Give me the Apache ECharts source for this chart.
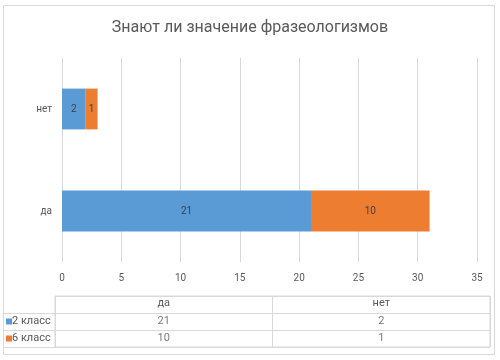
<!DOCTYPE html>
<html>
<head>
<meta charset="utf-8">
<script src="https://cdn.jsdelivr.net/npm/echarts@6/dist/echarts.min.js"></script>
<style>
html,body{margin:0;padding:0;background:#fff;}
#chart{width:500px;height:360px;}
</style>
</head>
<body>
<div id="chart"></div>
<script>
const titleText = 'Знают ли значение фразеологизмов';
const categories = ['да', 'нет'];
const seriesNames = ['2 класс', '6 класс'];
const class2 = [21, 2];
const class6 = [10, 1];
const seriesColors = ['#5B9BD5', '#ED7D31'];
const xTicks = { min: 0, max: 35, interval: 5 };

const FONT = 'Roboto';
const TXT = '#595959';
const GRID = '#d9d9d9';

const seriesValues = [class2, class6];
const tableRows = [''].concat(seriesNames);

const tableData = [];
seriesNames.forEach((s, si) => {
  categories.forEach((c, ci) => {
    tableData.push([c, s, seriesValues[si][ci]]);
  });
});

const rich = { t: { fontFamily: FONT, fontSize: 11, color: TXT } };
seriesColors.forEach((c, i) => {
  rich['m' + i] = { width: 6, height: 6, backgroundColor: c };
});

const chart = echarts.init(document.getElementById('chart'), null, { renderer: 'canvas' });
chart.setOption({
  animation: false,
  backgroundColor: '#fff',
  textStyle: { fontFamily: FONT },
  title: {
    text: titleText,
    left: 'center',
    top: 15,
    textStyle: { fontFamily: FONT, fontSize: 16, fontWeight: 'normal', color: TXT }
  },
  graphic: [{
    type: 'rect',
    shape: { x: 3.5, y: 5.5, width: 491, height: 349 },
    style: { fill: 'none', stroke: GRID, lineWidth: 1 },
    silent: true
  }],
  grid: [
    { left: 62, right: 23, top: 58, height: 204 },
    { left: 55, right: 10, top: 296, height: 51, show: true, borderColor: GRID, borderWidth: 1, backgroundColor: 'transparent' }
  ],
  xAxis: [
    {
      gridIndex: 0, type: 'value', min: xTicks.min, max: xTicks.max, interval: xTicks.interval,
      axisLine: { show: false }, axisTick: { show: false },
      splitLine: { show: true, lineStyle: { color: GRID } },
      axisLabel: { color: TXT, fontSize: 10, fontFamily: FONT, margin: 11 }
    },
    {
      gridIndex: 1, type: 'category', data: categories, position: 'top',
      axisLine: { show: false }, axisTick: { show: false },
      splitLine: { show: true, lineStyle: { color: GRID } },
      axisLabel: { inside: true, margin: 2, color: TXT, fontSize: 11, fontFamily: FONT }
    }
  ],
  yAxis: [
    {
      gridIndex: 0, type: 'category', data: categories,
      axisLine: { show: false }, axisTick: { show: false },
      axisLabel: { color: TXT, fontSize: 10, fontFamily: FONT, margin: 10 }
    },
    {
      gridIndex: 1, type: 'category', data: tableRows, inverse: true,
      axisLine: { show: false },
      axisTick: { show: true, length: 51, interval: (i) => i !== 0, lineStyle: { color: GRID } },
      splitLine: { show: true, lineStyle: { color: GRID } },
      axisLabel: {
        align: 'left', margin: 49,
        formatter: (v, i) => v ? '{m' + (i - 1) + '|}{t|' + v + '}' : '',
        rich: rich
      }
    }
  ],
  series: [
    {
      name: seriesNames[0], type: 'bar', stack: 'total', barWidth: '40%',
      xAxisIndex: 0, yAxisIndex: 0,
      itemStyle: { color: seriesColors[0] },
      label: { show: true, position: 'inside', color: '#404040', fontSize: 10, fontFamily: FONT },
      data: class2
    },
    {
      name: seriesNames[1], type: 'bar', stack: 'total', barWidth: '40%',
      xAxisIndex: 0, yAxisIndex: 0,
      itemStyle: { color: seriesColors[1] },
      label: { show: true, position: 'inside', color: '#404040', fontSize: 10, fontFamily: FONT },
      data: class6
    },
    {
      type: 'scatter', xAxisIndex: 1, yAxisIndex: 1, symbolSize: 0, silent: true,
      encode: { x: 0, y: 1 },
      label: {
        show: true, position: 'inside', color: TXT, fontSize: 11, fontFamily: FONT,
        formatter: (p) => String(p.value[2])
      },
      data: tableData
    }
  ]
});
</script>
</body>
</html>
